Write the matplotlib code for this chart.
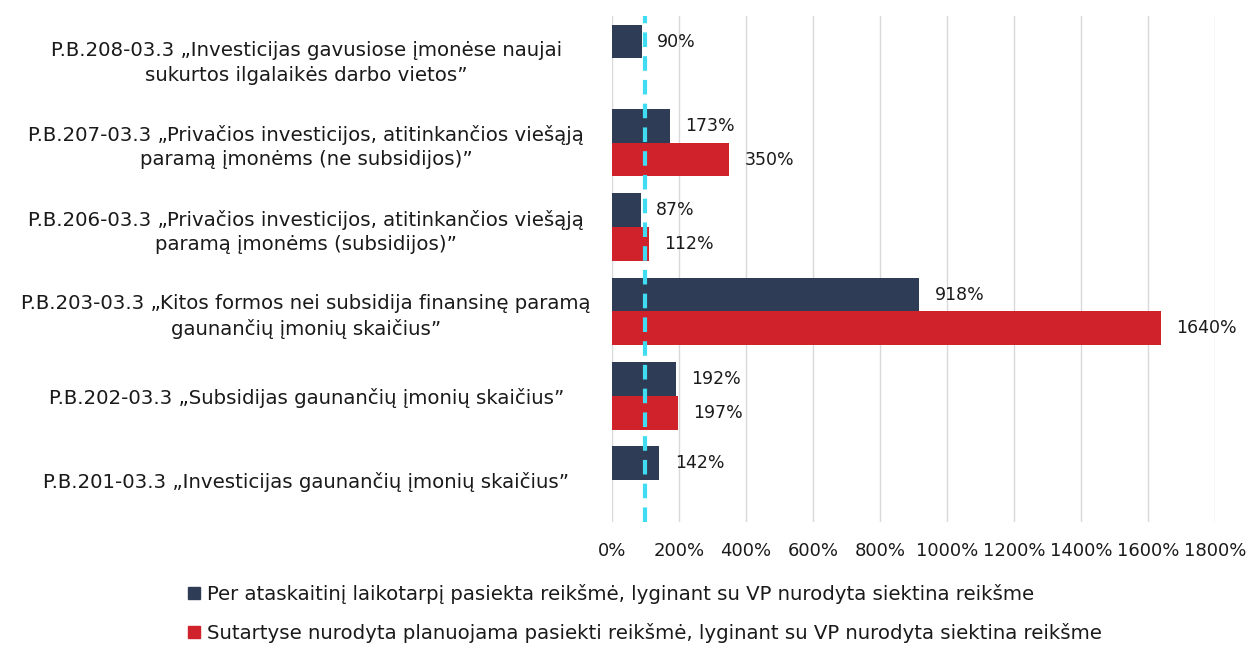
import matplotlib
matplotlib.use("Agg")
import matplotlib.pyplot as plt
import numpy as np
from matplotlib.patches import Patch

categories = [
    "P.B.208-03.3 „Investicijas gavusiose įmonėse naujai\nsukurtos ilgalaikės darbo vietos”",
    "P.B.207-03.3 „Privačios investicijos, atitinkančios viešąją\nparamą įmonėms (ne subsidijos)”",
    "P.B.206-03.3 „Privačios investicijos, atitinkančios viešąją\nparamą įmonėms (subsidijos)”",
    "P.B.203-03.3 „Kitos formos nei subsidija finansinę paramą\ngaunančių įmonių skaičius”",
    "P.B.202-03.3 „Subsidijas gaunančių įmonių skaičius”",
    "P.B.201-03.3 „Investicijas gaunančių įmonių skaičius”",
]
achieved = [90, 173, 87, 918, 192, 142]
planned = [None, 350, 112, 1640, 197, None]
series_names = [
    "Per ataskaitinį laikotarpį pasiekta reikšmė, lyginant su VP nurodyta siektina reikšme",
    "Sutartyse nurodyta planuojama pasiekti reikšmė, lyginant su VP nurodyta siektina reikšme",
]
x_ticks = [0, 200, 400, 600, 800, 1000, 1200, 1400, 1600, 1800]
target = 100

plt.rcParams['font.family'] = ['DejaVu Sans']

dark = "#2E3D55"
red = "#D0222B"
txt = "#1a1a1a"

fig = plt.figure(figsize=(12.46, 6.48), dpi=100)
ax = fig.add_axes([0.491, 0.194, 0.484, 0.781])

n = len(categories)
y = np.arange(n)
h = 0.4
fs_cat = 14.2
fs_tick = 13
fs_val = 12.5
fs_leg = 14.2

for i in range(n):
    ax.barh(y[i] - h / 2, achieved[i], height=h, color=dark, zorder=2)
    ax.annotate(f"{achieved[i]}%", (achieved[i], y[i] - h / 2), xytext=(11, 0),
                textcoords="offset points", va="center", ha="left", fontsize=fs_val, color=txt)
    if planned[i] is not None:
        ax.barh(y[i] + h / 2, planned[i], height=h, color=red, zorder=2)
        ax.annotate(f"{planned[i]}%", (planned[i], y[i] + h / 2), xytext=(11, 0),
                    textcoords="offset points", va="center", ha="left", fontsize=fs_val, color=txt)

ax.axvline(target, color="#3FDCF2", lw=3, ls=(0, (3.5, 2.2)), zorder=3)

ax.set_ylim(n - 0.5, -0.5)
ax.set_xlim(0, 1800)
ax.set_xticks(x_ticks)
ax.set_xticklabels([f"{t}%" for t in x_ticks], fontsize=fs_tick, color=txt)
ax.set_yticks(y)
ax.set_yticklabels(categories, fontsize=fs_cat, color=txt, ha="center",
                   multialignment="center", linespacing=1.35)
ax.tick_params(axis="y", length=0, pad=220)
ax.tick_params(axis="x", length=0, pad=14)
ax.grid(axis="x", color="#D9D9D9", lw=1, zorder=0)
for s in ax.spines.values():
    s.set_visible(False)

handles = [Patch(color=dark), Patch(color=red)]
fig.legend(handles, series_names, loc="upper left", bbox_to_anchor=(0.14, 0.12),
           frameon=False, fontsize=fs_leg, handlelength=0.6, handleheight=0.6,
           handletextpad=0.35, labelspacing=0.95, labelcolor=txt, borderpad=0.2)

fig.savefig("out.png", dpi=100, facecolor="white")
